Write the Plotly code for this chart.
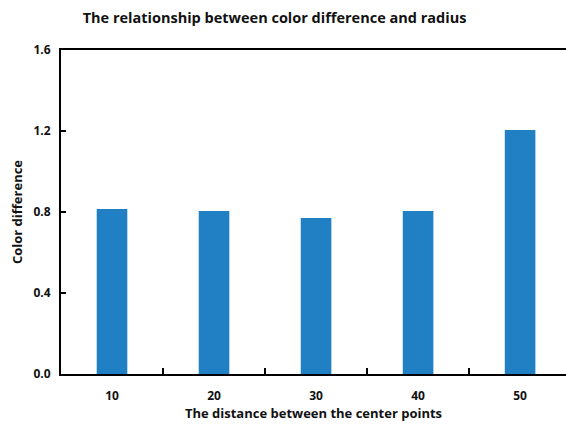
import plotly.graph_objects as go

# Color difference measured at each centre-point distance
distances = ["10", "20", "30", "40", "50"]
color_diff = [0.815, 0.805, 0.77, 0.805, 1.205]
y_ticks = [0.0, 0.4, 0.8, 1.2, 1.6]

font_family = "Open Sans"

fig = go.Figure(
    go.Bar(
        x=distances,
        y=color_diff,
        width=0.3,
        marker=dict(color="#2180c4", line=dict(width=0)),
    )
)

fig.update_layout(
    width=566,
    height=427,
    margin=dict(l=61, r=0, t=50, b=53),
    paper_bgcolor="white",
    plot_bgcolor="white",
    showlegend=False,
    title=dict(
        text="<b>The relationship between color difference and radius</b>",
        x=0.485,
        xanchor="center",
        y=0.958,
        yanchor="middle",
        font=dict(family=font_family, size=14.5, color="#111111"),
    ),
    font=dict(family=font_family, color="#111111"),
)

fig.update_xaxes(
    type="category",
    range=[-0.5, 4.45],
    showline=True,
    linecolor="black",
    linewidth=2,
    mirror=True,
    ticks="inside",
    tickson="boundaries",
    ticklen=6,
    tickwidth=1.5,
    tickcolor="black",
    showgrid=False,
    ticklabelstandoff=10,
    tickfont=dict(size=12, family=font_family, weight="bold"),
    title=dict(
        text="<b>The distance between the center points</b>",
        font=dict(size=13, family=font_family),
        standoff=4,
    ),
)

fig.update_yaxes(
    range=[0, 1.6],
    tickvals=y_ticks,
    tickformat=".1f",
    showline=True,
    linecolor="black",
    linewidth=2,
    ticks="inside",
    ticklen=5,
    tickwidth=1.5,
    tickcolor="black",
    showgrid=False,
    zeroline=False,
    ticklabelstandoff=6,
    tickfont=dict(size=12, family=font_family, weight="bold"),
    title=dict(
        text="<b>Color difference</b>",
        font=dict(size=13, family=font_family),
        standoff=8,
    ),
)

fig.write_html("out.html")
